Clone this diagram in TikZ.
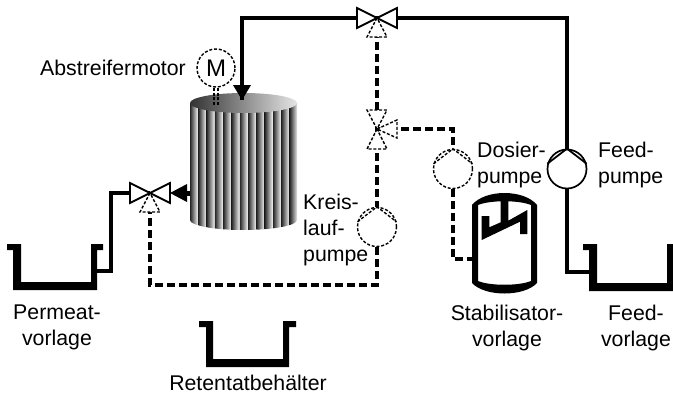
\documentclass[tikz,border=0pt]{standalone}
\usepackage{fontspec}
\setmainfont{Liberation Sans}
\usetikzlibrary{calc,positioning}
\tikzset{
    pipe/.style={line width=3.6pt,line join=miter},
    dosing/.style={line width=3.6pt,dash pattern=on 8pt off 4pt},
    thin valve/.style={line width=1.8pt,fill=white,line join=miter},
    aux valve/.style={line width=1.4pt,fill=white,dash pattern=on 3pt off 1.8pt},
    pump/.style={circle,draw,fill=white,line width=1.7pt,minimum size=39pt,inner sep=0pt},
    aux pump/.style={pump,line width=1.4pt,dash pattern=on 3pt off 1.8pt},
    label/.style={font=\fontsize{21.3}{26}\selectfont,inner sep=0pt},
    tank/.style={fill=black,draw=none}
}
\begin{document}
\begin{tikzpicture}[x=1pt,y=-1pt]
    \useasboundingbox (0,0) rectangle (673,394);
    \fill[white] (0,0) rectangle (673,394);

    % Define valve centres and pipe corners
    \coordinate (topvalve) at (377,18);
    \coordinate (midvalve) at (377,129);
    \coordinate (leftvalve) at (150,193);
    \coordinate (inlet) at (242,100);
    \coordinate (retentate) at (190,193);
    \coordinate (permeatein) at (97,271);
    \coordinate (feedout) at (590,272);
    \coordinate (dosein) at (473,259);

    % Draw the membrane cylinder
    \begin{scope}
        \clip (190,103) -- (190,220) arc[start angle=180,end angle=0,x radius=53.5,y radius=10]
            -- (297,103) -- cycle;
        \foreach \i in {0,...,12} {
            \shade[left color=black!85,right color=white]
                ({190+\i*8.3},90) rectangle ({190+(\i+1)*8.3},235);
        }
    \end{scope}
    \shade[left color=black!80,right color=black!10]
        (243.5,103) ellipse[x radius=53.5,y radius=10];

    % Draw the pumps
    \node[pump] (feedpump) at (567,169) {};
    \node[aux pump] (dosepump) at (453,169) {};
    \node[aux pump] (looppump) at (377,227) {};
    \node[aux pump,minimum size=38pt] (motor) at (216,68) {\fontsize{24}{24}\selectfont M};

    % Draw the lines between the parts
    \draw[pipe] (topvalve) -| (inlet);
    \draw[pipe] (topvalve) -| (feedpump.north);
    \draw[pipe] (feedpump.south) |- (feedout);
    \draw[pipe] (leftvalve) -| ($(permeatein)+(14,0)$) -- (permeatein);
    \draw[dosing] (topvalve) -- (midvalve);
    \draw[dosing] (midvalve) -- (looppump.north);
    \draw[dosing] (looppump.south) |- (150,285) -- (leftvalve);
    \draw[dosing] (midvalve) -| (dosepump.north);
    \draw[dosing] (dosepump.south) |- (dosein);
    \foreach \dx in {-2,2} {
        \draw[line width=1.4pt,dash pattern=on 3pt off 1.8pt]
            ($(motor.south)+(\dx,0)$) -- ++(0,19);
    }

    % Draw the arrows into and out of the cylinder
    \fill (233,85) -- (251,85) -- (inlet) -- cycle;
    \fill (187,184) -- (187,202) -- (170,193) -- cycle;
    \fill (186,190.5) rectangle (190,195.5);

    % Redraw pump inners
    \foreach \p/\s in {feedpump/thin valve,dosepump/aux valve,looppump/aux valve} {
        \draw[\s,fill=none] (\p.165) -- (\p.north) -- (\p.15);
    }

    % Draw the valves
    \foreach \v in {topvalve,leftvalve} {
        \draw[aux valve] (\v) -- ++(-10,19) -- ++(20,0) -- cycle;
        \draw[thin valve] (\v) -- ++(-20,-10) -- ++(0,20) -- cycle;
        \draw[thin valve] (\v) -- ++(20,-10) -- ++(0,20) -- cycle;
    }
    \draw[aux valve] (midvalve) -- ++(-10,-19) -- ++(20,0) -- cycle;
    \draw[aux valve] (midvalve) -- ++(-10,20) -- ++(20,0) -- cycle;
    \draw[aux valve] (midvalve) -- ++(20,-9) -- ++(0,18) -- cycle;

    % Draw the tanks
    \fill[tank] (7,244) -- (21,244) -- (21,282) -- (91,282) -- (91,244) -- (103,244)
        -- (103,250) -- (97,250) -- (97,290) -- (13,290) -- (13,250) -- (7,250) -- cycle;
    \fill[tank] (199,321) -- (213,321) -- (213,359) -- (283,359) -- (283,321) -- (296,321)
        -- (296,327) -- (289,327) -- (289,367) -- (206,367) -- (206,327) -- (199,327) -- cycle;
    \fill[tank] (583,244) -- (597,244) -- (597,283) -- (667,283) -- (667,244) -- (673,244)
        -- (673,291) -- (589,291) -- (589,250) -- (583,250) -- cycle;

    % Draw the stabiliser vessel
    \fill[tank,even odd rule]
        (472,205) .. controls (485,189) and (524,189) .. (537,205) -- (537,283)
            .. controls (524,297) and (485,297) .. (472,283) -- cycle
        (478,205) .. controls (490,200) and (519,200) .. (531,205) -- (531,281)
            .. controls (519,286) and (490,286) .. (478,281) -- cycle;
    \fill[tank] (481.7,216) -- (489.3,216) -- (489.3,227.3) -- (500.7,222.3) -- (500.7,198)
        -- (508.3,198) -- (508.3,220.7) -- (527.3,210) -- (527.3,234) -- (520,234)
        -- (520,221.7) -- (481.7,240) -- cycle;

    % Labels
    \node[label,anchor=west] (motorlabel) at (40,68) {Abstreifermotor};
    \node[label,align=left,anchor=north west] (looplabel) at (303,194) {Kreis-\\lauf-\\pumpe};
    \node[label,align=left,anchor=north west] (doselabel) at (477,142) {Dosier-\\pumpe};
    \node[label,align=left,anchor=north west] (feedlabel) at (598,142) {Feed-\\pumpe};
    \node[label,align=center,anchor=north] (permeatlabel) at (57,305) {Permeat-\\vorlage};
    \node[label,align=center,anchor=north] (stablabel) at (507,305) {Stabilisator-\\vorlage};
    \node[label,align=center,anchor=north] (feedtanklabel) at (636,305) {Feed-\\vorlage};
    \node[label,anchor=north] (retentatlabel) at (248,375) {Retentatbehälter};
\end{tikzpicture}
\end{document}
